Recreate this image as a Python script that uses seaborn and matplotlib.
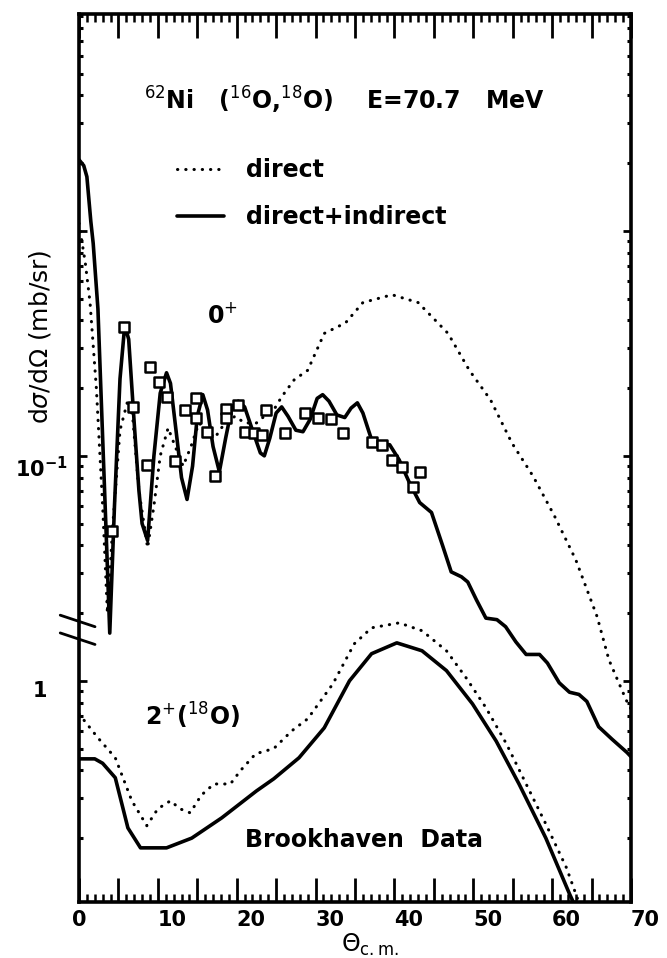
import matplotlib
matplotlib.use('Agg')
import pandas as pd
import matplotlib.pyplot as plt
import seaborn as sns
from matplotlib.ticker import FixedLocator, NullFormatter, LogLocator

# 0+ : direct + indirect (solid), theta in deg, dsigma/dOmega in mb/sr
theta_0p_full = [0.0, 0.6, 1.0, 1.5, 1.8, 2.4, 3.0, 3.5, 3.9, 4.5, 5.2, 5.8, 6.3, 7.0,
                 7.6, 8.0, 8.7, 9.5, 10.3, 11.1, 11.6, 12.3, 13.0, 13.7, 14.4, 15.0,
                 15.7, 16.3, 17.0, 17.8, 18.6, 19.4, 20.2, 21.0, 22.0, 23.0, 23.5,
                 24.2, 25.0, 25.7, 26.5, 27.5, 28.4, 29.3, 30.2, 30.9, 31.7, 32.7,
                 33.7, 34.5, 35.3, 36.0, 37.1, 38.3, 39.4, 40.6, 41.9, 43.2, 44.7,
                 46.1, 47.2, 48.5, 49.3, 50.4, 51.6, 53.0, 54.1, 55.4, 56.7, 58.4,
                 59.4, 60.9, 62.2, 63.4, 64.4, 65.9, 67.6, 69.5, 70.0]
xs_0p_full = [2.07, 1.95, 1.74, 1.1, 0.88, 0.45, 0.12, 0.04, 0.0163, 0.06, 0.22, 0.38,
              0.33, 0.14, 0.07, 0.05, 0.042, 0.1, 0.19, 0.234, 0.21, 0.13, 0.08, 0.064,
              0.09, 0.15, 0.187, 0.16, 0.11, 0.085, 0.12, 0.165, 0.175, 0.165, 0.13,
              0.103, 0.1, 0.12, 0.155, 0.165, 0.15, 0.13, 0.128, 0.145, 0.18, 0.187,
              0.175, 0.152, 0.148, 0.163, 0.172, 0.155, 0.118, 0.113, 0.112, 0.096,
              0.076, 0.062, 0.056, 0.04, 0.0305, 0.029, 0.0275, 0.0229, 0.019, 0.0187,
              0.0174, 0.0149, 0.0131, 0.0131, 0.012, 0.0098, 0.0089, 0.0087, 0.0081,
              0.00625, 0.0055, 0.0048, 0.0046]

# 0+ : direct only (dotted)
theta_0p_dir = [0.0, 0.8, 1.4, 2.2, 3.0, 3.6, 4.3, 5.2, 6.2, 6.8, 7.6, 8.7, 9.5, 10.3,
                11.3, 12.2, 13.2, 14.2, 15.2, 16.2, 17.2, 18.5, 19.8, 21.0, 22.5, 23.5,
                24.7, 25.7, 27.3, 29.0, 31.1, 33.8, 36.0, 39.7, 43.0, 45.2, 46.8, 49.5,
                52.2, 54.9, 57.6, 60.3, 63.0, 65.7, 67.2, 69.4, 70.0]
xs_0p_dir = [1.08, 0.72, 0.48, 0.2, 0.06, 0.02, 0.05, 0.13, 0.177, 0.15, 0.07, 0.039,
             0.06, 0.1, 0.133, 0.11, 0.09, 0.11, 0.14, 0.13, 0.12, 0.14, 0.15, 0.14,
             0.14, 0.15, 0.16, 0.183, 0.218, 0.24, 0.35, 0.39, 0.48, 0.52, 0.48, 0.40,
             0.35, 0.24, 0.177, 0.114, 0.081, 0.054, 0.0345, 0.0193, 0.0124, 0.0082,
             0.0075]

# 0+ : Brookhaven data points
theta_data = [4.2, 5.7, 6.8, 8.6, 9.0, 10.1, 11.1, 12.2, 13.4, 14.8, 14.9, 16.2, 17.3,
              18.6, 18.6, 20.1, 21.1, 22.2, 23.2, 23.7, 26.1, 28.6, 30.3, 31.9, 33.5,
              37.2, 38.4, 39.7, 41.0, 42.3, 43.3]
xs_data = [0.0464, 0.374, 0.165, 0.091, 0.249, 0.213, 0.183, 0.095, 0.160, 0.181,
           0.148, 0.128, 0.081, 0.162, 0.148, 0.169, 0.128, 0.126, 0.124, 0.160,
           0.126, 0.155, 0.148, 0.146, 0.126, 0.115, 0.112, 0.096, 0.089, 0.073, 0.085]

# 2+ (18O) : direct + indirect (solid), mb/sr on the lower scale
theta_2p_full = [0.0, 2.0, 3.0, 4.6, 6.2, 7.8, 11.1, 14.3, 18.1, 22.5, 24.7, 27.9, 31.1,
                 34.3, 37.1, 40.3, 43.5, 46.6, 49.9, 52.9, 55.8, 59.2, 62.2, 63.5]
xs_2p_full = [0.45, 0.45, 0.43, 0.371, 0.222, 0.181, 0.181, 0.2, 0.246, 0.324, 0.367,
              0.455, 0.618, 1.0, 1.32, 1.475, 1.36, 1.11, 0.79, 0.54, 0.348, 0.2, 0.113,
              0.09]

# 2+ (18O) : direct only (dotted)
theta_2p_dir = [0.0, 2.4, 4.6, 6.7, 8.6, 10.0, 11.6, 12.8, 14.1, 15.5, 17.1, 19.2, 20.5,
                22.4, 24.7, 27.0, 29.0, 32.2, 34.9, 37.1, 40.6, 43.5, 46.6, 49.1, 51.6,
                54.2, 56.7, 59.2, 61.8, 63.0, 64.0]
xs_2p_dir = [0.713, 0.558, 0.455, 0.293, 0.227, 0.27, 0.293, 0.27, 0.259, 0.31, 0.348,
             0.348, 0.40, 0.474, 0.5, 0.6, 0.678, 0.97, 1.46, 1.72, 1.81, 1.67, 1.36,
             1.03, 0.76, 0.525, 0.348, 0.231, 0.148, 0.113, 0.09]

# the 2+ curves sit two decades below on the shared log axis ("1" <-> 1e-2)
shift_2p = 0.01

sns.set_style('ticks')
plt.rcParams['font.family'] = ['DejaVu Sans']
plt.rcParams['mathtext.fontset'] = 'dejavusans'
plt.rcParams.update({'text.color': 'black', 'axes.edgecolor': 'black',
                     'xtick.color': 'black', 'ytick.color': 'black',
                     'axes.labelcolor': 'black'})

fig = plt.figure(figsize=(6.67, 9.58), dpi=100)
ax = fig.add_axes([79 / 667, 1 - 902 / 958, 552 / 667, 888 / 958])

solid_kw = dict(color='black', lw=2.6, sort=False, estimator=None)
dot_kw = dict(color='black', lw=2.2, sort=False, estimator=None,
              linestyle=(0, (0.1, 2.6)), dash_capstyle='round')

sns.lineplot(x=theta_0p_full, y=xs_0p_full, ax=ax, **solid_kw)
h_full = ax.lines[-1]
sns.lineplot(x=theta_0p_dir, y=xs_0p_dir, ax=ax, **dot_kw)
h_dir = ax.lines[-1]

d2 = pd.DataFrame({'theta': theta_2p_full, 'xs': xs_2p_full})
d2['y'] = d2['xs'] * shift_2p
sns.lineplot(data=d2, x='theta', y='y', ax=ax, **solid_kw)
d2d = pd.DataFrame({'theta': theta_2p_dir, 'xs': xs_2p_dir})
d2d['y'] = d2d['xs'] * shift_2p
sns.lineplot(data=d2d, x='theta', y='y', ax=ax, **dot_kw)

sns.scatterplot(x=theta_data, y=xs_data, ax=ax, marker='s', s=55,
                facecolor='white', edgecolor='black', linewidth=1.8, zorder=4)

ax.set_yscale('log')
ax.set_xlim(0, 70)
ax.set_ylim(1.04e-3, 9.2)

# axis frame and ticks
for sp in ax.spines.values():
    sp.set_linewidth(2.6)
    sp.set_color('black')
ax.xaxis.set_major_locator(FixedLocator(list(range(0, 71, 5))))
ax.xaxis.set_minor_locator(FixedLocator(list(range(0, 71, 1))))
ax.set_xticklabels([str(v) if v % 10 == 0 else '' for v in range(0, 71, 5)],
                   fontsize=15, fontweight='bold')
for lbl in ax.get_xticklabels():
    lbl.set_horizontalalignment('left')
ax.get_xticklabels()[0].set_horizontalalignment('center')
ax.tick_params(axis='x', which='major', direction='in', length=17, width=2,
               top=True, bottom=True, pad=6)
ax.tick_params(axis='x', which='minor', direction='in', length=6, width=1.8,
               top=True, bottom=True)

ax.yaxis.set_major_locator(FixedLocator([1e-3, 1e-2, 1e-1, 1.0]))
ax.yaxis.set_minor_locator(LogLocator(base=10, subs=range(2, 10)))
ax.yaxis.set_major_formatter(NullFormatter())
ax.yaxis.set_minor_formatter(NullFormatter())
ax.tick_params(axis='y', which='major', direction='in', length=6, width=2,
               left=True, right=True)
ax.tick_params(axis='y', which='minor', direction='in', length=3, width=2.2,
               left=True, right=True)
ax.set_xlabel('')
ax.set_ylabel('')

# y tick labels for the two scales
ylab = ax.get_yaxis_transform()
ax.text(-0.02, 0.1, r'$\mathbf{10^{-1}}$', transform=ylab, ha='right', va='top',
        fontsize=15)
ax.text(-0.071, 0.01, '1', transform=ylab, ha='center', va='top', fontsize=15,
        fontweight='bold')

# axis break marks on the left spine
ax.plot([-0.034, 0.029], [0.323, 0.310], transform=ax.transAxes, clip_on=False,
        color='black', lw=2)
ax.plot([-0.034, 0.029], [0.303, 0.290], transform=ax.transAxes, clip_on=False,
        color='black', lw=2)

# annotations
ax.text(0.48, 0.903, r'$^{62}$Ni   ($^{16}$O,$^{18}$O)    E=70.7   MeV',
        transform=ax.transAxes, ha='center', va='center', fontsize=17,
        fontweight='bold')
ax.text(0.259, 0.661, r'0$^{+}$', transform=ax.transAxes, ha='center', va='center',
        fontsize=17, fontweight='bold')
ax.text(0.12, 0.21, r'2$^{+}$($^{18}$O)', transform=ax.transAxes, ha='left',
        va='center', fontsize=17, fontweight='bold')
ax.text(0.30, 0.07, 'Brookhaven  Data', transform=ax.transAxes, ha='left',
        va='center', fontsize=17, fontweight='bold')

ax.legend([h_dir, h_full], ['direct', 'direct+indirect'], loc='upper left',
          bbox_to_anchor=(0.178, 0.838), frameon=False, borderpad=0,
          borderaxespad=0, handlelength=2.0, handletextpad=0.9, labelspacing=1.0,
          prop={'size': 17, 'weight': 'bold'})

fig.text(40 / 667, 1 - 337 / 958, r'd$\sigma$/d$\Omega$ (mb/sr)', rotation=90,
         ha='center', va='center', fontsize=18)
fig.text(370 / 667, 1 - 945 / 958, r'$\Theta_{\rm c.m.}$', ha='center',
         va='center', fontsize=17)

fig.savefig('out.png', dpi=100)
